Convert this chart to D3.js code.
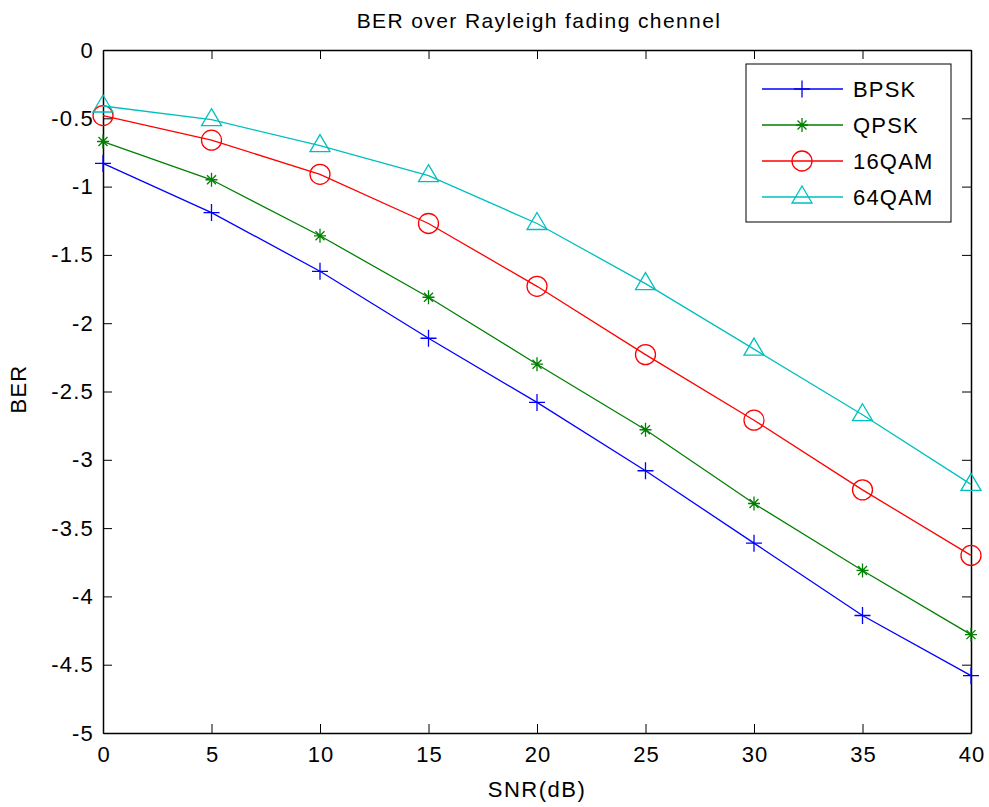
<!DOCTYPE html>
<html>
<head>
<meta charset="utf-8">
<script src="https://cdn.jsdelivr.net/npm/d3@7"></script>
<style>
  body { margin: 0; background: #fff; }
  text { font-family: "Liberation Sans", Arial, sans-serif; fill: #000; }
</style>
</head>
<body>
<script>
    //data
    var snr = [0, 5, 10, 15, 20, 25, 30, 35, 40];
    var bpsk = [-0.83, -1.19, -1.62, -2.11, -2.58, -3.08, -3.61, -4.14, -4.58];
    var qpsk = [-0.67, -0.95, -1.36, -1.81, -2.30, -2.78, -3.32, -3.81, -4.28];
    var qam16 = [-0.48, -0.66, -0.91, -1.27, -1.73, -2.23, -2.71, -3.22, -3.70];
    var qam64 = [-0.41, -0.51, -0.70, -0.92, -1.27, -1.71, -2.19, -2.67, -3.18];
    var names = ["BPSK", "QPSK", "16QAM", "64QAM"];
    var xTicks = [0, 5, 10, 15, 20, 25, 30, 35, 40];
    var yTicks = [0, -0.5, -1, -1.5, -2, -2.5, -3, -3.5, -4, -4.5, -5];

    var series = [
        { name: names[0], values: bpsk, color: "#0000ff", marker: "plus" },
        { name: names[1], values: qpsk, color: "#008000", marker: "star" },
        { name: names[2], values: qam16, color: "#ff0000", marker: "circle" },
        { name: names[3], values: qam64, color: "#00bfbf", marker: "triangle" }
    ];

    var width = 989, height = 807;
    var margin = { left: 103, right: 18, top: 50, bottom: 74 };
    var w = width - margin.left - margin.right;
    var h = height - margin.top - margin.bottom;

    var xScale = d3.scaleLinear().domain([0, 40]).range([0, w]);
    var yScale = d3.scaleLinear().domain([-5, 0]).range([h, 0]);

    var svg = d3.select("body").append("svg")
        .attr("width", width)
        .attr("height", height);

    var g = svg.append("g")
        .attr("transform", "translate(" + margin.left + "," + margin.top + ")");

    //axes with inward ticks on all four sides
    var tick = 9;
    var xAxis = g.append("g").attr("transform", "translate(0," + h + ")")
        .call(d3.axisBottom(xScale).tickValues(xTicks).tickSizeInner(-tick).tickSizeOuter(0).tickPadding(13).tickFormat(d3.format("d")));
    g.append("g")
        .call(d3.axisTop(xScale).tickValues(xTicks).tickSizeInner(-tick).tickSizeOuter(0).tickFormat(""));
    var yAxis = g.append("g")
        .call(d3.axisLeft(yScale).tickValues(yTicks).tickSizeInner(-tick).tickSizeOuter(0).tickPadding(9).tickFormat(function (d) { return d3.format("")(d).replace("−", "-"); }));
    g.append("g").attr("transform", "translate(" + w + ",0)")
        .call(d3.axisRight(yScale).tickValues(yTicks).tickSizeInner(-tick).tickSizeOuter(0).tickFormat(""));

    g.selectAll(".domain").attr("stroke", "#000").attr("stroke-width", 1.5);
    g.selectAll(".tick line").attr("stroke", "#000");
    g.selectAll(".tick text")
        .attr("font-size", 22)
        .attr("letter-spacing", "1.2px")
        .attr("font-family", "Liberation Sans, Arial, sans-serif");
    xAxis.selectAll(".tick text").attr("dx", "0.6px");

    //marker drawing
    function drawMarker(sel, type, color) {
        if (type === "plus") {
            sel.append("path").attr("d", "M-8,0H8M0,-8.5V8.5");
        } else if (type === "star") {
            sel.append("path").attr("d", "M-6,0H6M0,-7V7M-4.5,-4.5L4.5,4.5M-4.5,4.5L4.5,-4.5");
        } else if (type === "circle") {
            sel.append("circle").attr("r", 10);
        } else {
            sel.append("path").attr("d", "M0,-11L10,6H-10Z");
        }
        sel.selectAll("path,circle").attr("fill", "none").attr("stroke", color).attr("stroke-width", 1.3);
    }

    var line = d3.line()
        .x(function (d, i) { return xScale(snr[i]); })
        .y(function (d) { return yScale(d); });

    series.forEach(function (s) {
        g.append("path")
            .datum(s.values)
            .attr("fill", "none")
            .attr("stroke", s.color)
            .attr("stroke-width", 1.3)
            .attr("d", line);

        g.selectAll(".m-" + s.marker)
            .data(s.values)
            .enter()
            .append("g")
            .attr("class", "m-" + s.marker)
            .attr("transform", function (d, i) { return "translate(" + xScale(snr[i]) + "," + yScale(d) + ")"; })
            .each(function () { drawMarker(d3.select(this), s.marker, s.color); });
    });

    //legend
    var legend = g.append("g").attr("transform", "translate(" + (746 - margin.left) + "," + (64 - margin.top) + ")");
    legend.append("rect")
        .attr("width", 205).attr("height", 158)
        .attr("fill", "#fff").attr("stroke", "#000").attr("stroke-width", 1);
    series.forEach(function (s, i) {
        var yy = 25 + i * 36;
        legend.append("line")
            .attr("x1", 16).attr("x2", 97).attr("y1", yy).attr("y2", yy)
            .attr("stroke", s.color).attr("stroke-width", 1.3);
        var m = legend.append("g").attr("transform", "translate(56," + yy + ")");
        drawMarker(m, s.marker, s.color);
        legend.append("text")
            .attr("x", 107).attr("y", yy + 8)
            .attr("font-size", 22)
            .attr("letter-spacing", "1.2px")
            .text(s.name);
    });

    //titles
    svg.append("text")
        .attr("x", 539).attr("y", 28)
        .attr("text-anchor", "middle").attr("font-size", 21)
        .attr("letter-spacing", "1.4px")
        .text("BER over Rayleigh fading chennel");
    svg.append("text")
        .attr("x", margin.left + w / 2).attr("y", 797)
        .attr("text-anchor", "middle").attr("font-size", 22)
        .attr("letter-spacing", "1.5px")
        .text("SNR(dB)");
    svg.append("text")
        .attr("transform", "translate(26," + 389 + ") rotate(-90)")
        .attr("text-anchor", "middle").attr("font-size", 22)
        .attr("letter-spacing", "1.2px")
        .text("BER");
</script>
</body>
</html>
